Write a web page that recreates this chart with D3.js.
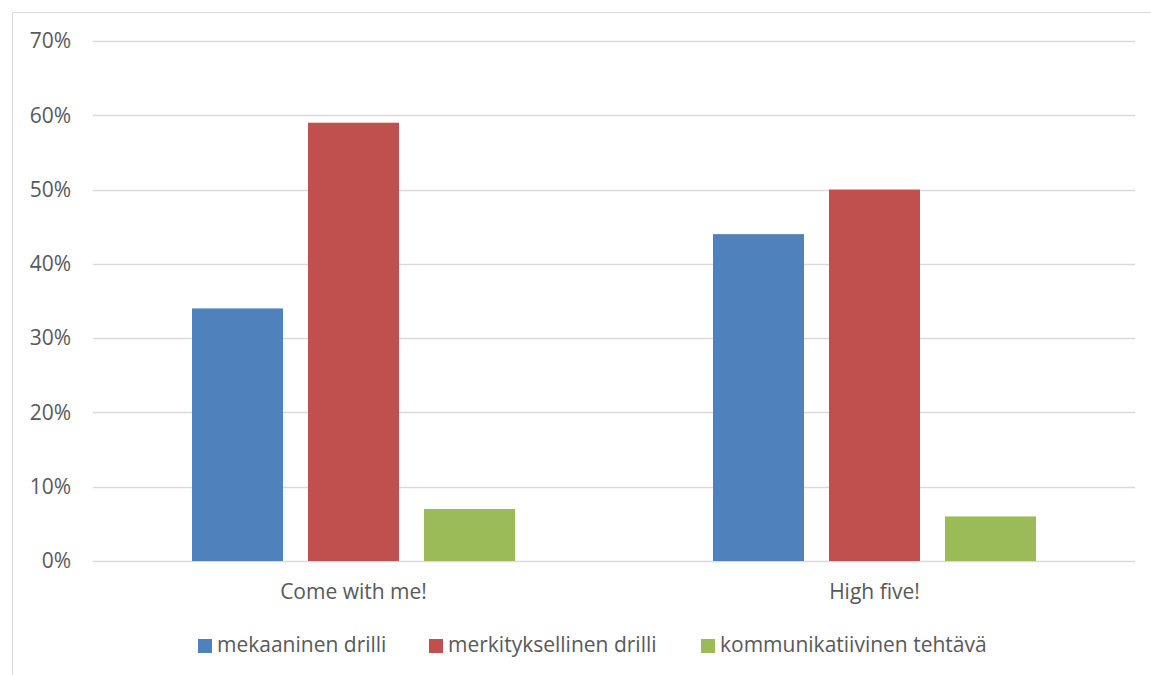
<!DOCTYPE html>
<html>
<head>
<meta charset="utf-8">
<script src="https://cdn.jsdelivr.net/npm/d3@7"></script>
<style>
html,body{margin:0;padding:0;background:#fff;}
svg{display:block;}
text{font-family:"Open Sans",sans-serif;fill:#595959;}
</style>
</head>
<body>
<svg id="chart" width="1151" height="675"></svg>
<script>
const categories = ["Come with me!", "High five!"];
const seriesNames = ["mekaaninen drilli", "merkityksellinen drilli", "kommunikatiivinen tehtävä"];
const seriesColors = ["#4f81bd", "#c0504d", "#9bbb59"];
const mekaaninen = [0.34, 0.44];
const merkityksellinen = [0.59, 0.50];
const kommunikatiivinen = [0.07, 0.06];
const yTicks = [0, 0.1, 0.2, 0.3, 0.4, 0.5, 0.6, 0.7];

const seriesValues = [mekaaninen, merkityksellinen, kommunikatiivinen];

const svg = d3.select("#chart");
const W = 1151, H = 675;
const FS = 21;

// chart border
svg.append("path")
  .attr("d", `M12.5,${H} L12.5,12.5 L${W},12.5`)
  .attr("fill", "none").attr("stroke", "#d9d9d9").attr("stroke-width", 1);

const plot = {left: 93, right: 1135, top: 41, bottom: 561};

const y = d3.scaleLinear().domain([0, 0.7]).range([plot.bottom, plot.top]);
const x0 = d3.scaleBand().domain(categories).range([plot.left, plot.right]).paddingInner(0).paddingOuter(0);
const barW = 91, barGap = 25;
const groupW = 3 * barW + 2 * barGap;

// gridlines
svg.append("g").selectAll("line").data(yTicks).join("line")
  .attr("x1", plot.left).attr("x2", plot.right)
  .attr("y1", d => Math.round(y(d)) + 0.5).attr("y2", d => Math.round(y(d)) + 0.5)
  .attr("stroke", "#d9d9d9").attr("stroke-width", 1.3);

// y axis labels
const yAxis = d3.axisLeft(y).tickValues(yTicks).tickFormat(d3.format(".0%")).tickSize(0).tickPadding(0);
const yg = svg.append("g").attr("transform", `translate(71,0)`).call(yAxis);
yg.select(".domain").remove();
yg.selectAll("text").attr("font-size", FS).attr("fill", "#595959").style("font-family", '"Open Sans",sans-serif');

// bars
const data = [];
categories.forEach((c, ci) => {
  seriesValues.forEach((vals, si) => data.push({c, si, v: vals[ci]}));
});
svg.append("g").selectAll("rect").data(data).join("rect")
  .attr("x", d => x0(d.c) + (x0.bandwidth() - groupW) / 2 + d.si * (barW + barGap))
  .attr("y", d => y(d.v))
  .attr("width", barW)
  .attr("height", d => y(0) - y(d.v))
  .attr("fill", d => seriesColors[d.si]);

// x axis labels
const xAxis = d3.axisBottom(x0).tickSize(0).tickPadding(0);
const xg = svg.append("g").attr("transform", `translate(0,${plot.bottom + 31})`).call(xAxis);
xg.select(".domain").remove();
xg.selectAll("text").attr("font-size", FS).attr("fill", "#595959").attr("dy", "0.35em").style("font-family", '"Open Sans",sans-serif');

// legend
const legendX = [198, 429, 701];
const lg = svg.append("g");
seriesNames.forEach((n, i) => {
  lg.append("rect").attr("x", legendX[i]).attr("y", 639).attr("width", 14).attr("height", 14).attr("fill", seriesColors[i]);
  lg.append("text").attr("x", legendX[i] + 19).attr("y", 645).attr("dy", "0.35em").attr("font-size", FS).text(n);
});
</script>
</body>
</html>
